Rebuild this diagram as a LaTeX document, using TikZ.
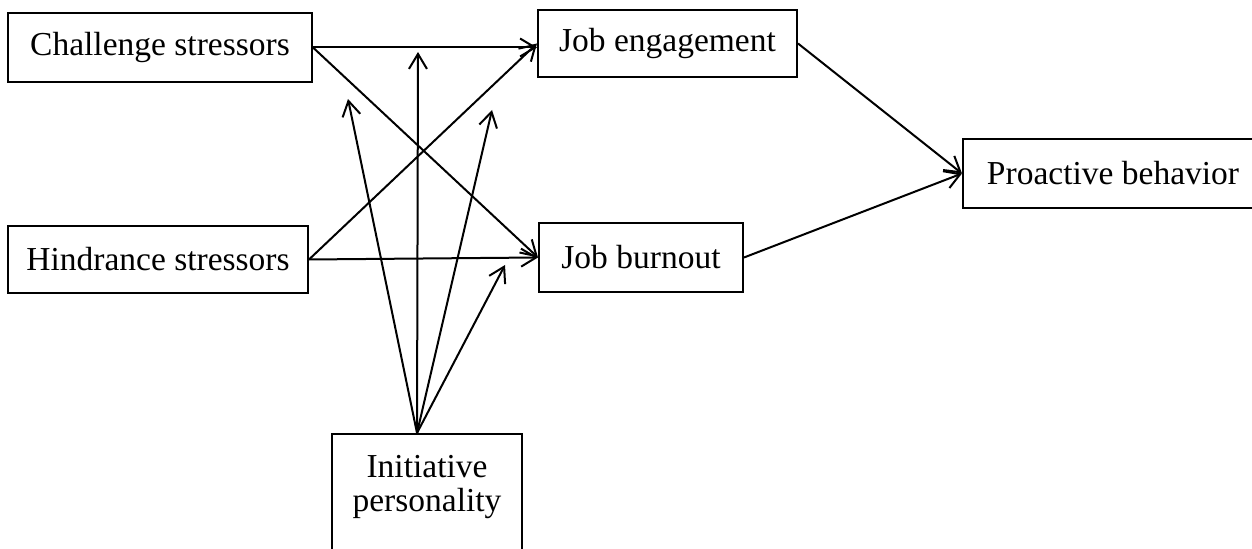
\documentclass[tikz,border=0pt]{standalone}
\usepackage{fontspec}
\setmainfont{Liberation Serif}
\usetikzlibrary{arrows.meta}

\begin{document}
\begin{tikzpicture}[x=0.5pt, y=-0.5pt,
    box/.style={draw, line width=1pt, inner sep=0pt,
        font=\fontsize{16.75}{17}\selectfont},
    effect/.style={-{Straight Barb[length=7.5pt,width=9pt]}, line width=1pt}]
  \clip (0,0) rectangle (1252,549);
  \node[box, minimum width=152pt, minimum height=34.5pt] (chal) at (160,47.5) {Challenge stressors};
  \node[box, minimum width=150pt, minimum height=33.5pt] (hind) at (158,259.5) {Hindrance stressors};
  \node[box, minimum width=129.5pt, minimum height=33.5pt] (eng) at (667.5,43.5) {Job engagement};
  \node[box, minimum width=102pt, minimum height=34.5pt] (burn) at (641,257.5) {Job burnout};
  \node[box, minimum width=150pt, minimum height=34.5pt] (pro) at (1113,173.5) {Proactive behavior};
  \node[box, minimum width=95pt, minimum height=60pt] (init) at (427,494) {};
  \node[box, draw=none, align=center] (inittext) at (427,487) {Initiative\\personality};

  \draw[effect] (chal.east) -- (eng.west |- chal.east);
  \draw[effect] (chal.east) -- (burn.west);
  \draw[effect] (hind.east) -- (eng.west);
  \draw[effect] (hind.east) -- (burn.west);
  \draw[effect] (eng.east) -- (pro.west);
  \draw[effect] (burn.east) -- (pro.west);

  \coordinate (src) at ([xshift=-5pt]init.north);
  \coordinate (m1) at (348,99);
  \coordinate (m2) at (418,52);
  \coordinate (m3) at (492,110);
  \coordinate (m4) at (505,265);
  \foreach \t in {m1,m2,m3,m4}
    \draw[effect] (src) -- (\t);
\end{tikzpicture}
\end{document}
